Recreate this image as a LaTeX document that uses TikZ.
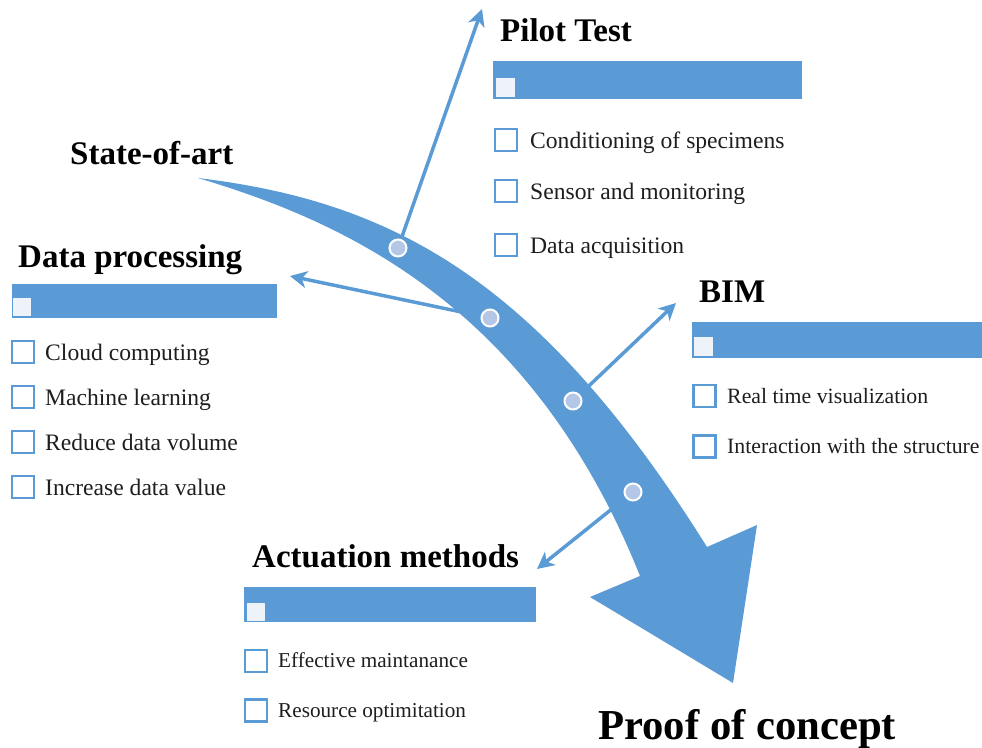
\documentclass[tikz,border=0pt]{standalone}
\usepackage{fontspec}
\setmainfont{Liberation Serif}
\usetikzlibrary{arrows.meta}
\definecolor{mblue}{HTML}{5B9BD5}
\definecolor{lsq}{HTML}{EEF3FA}
\definecolor{cfill}{HTML}{B4C7E7}
\definecolor{txt}{HTML}{1E1E1E}
\begin{document}
\begin{tikzpicture}[x=1pt,y=-1pt,
 bar/.style={fill=mblue, inner sep=0, anchor=north west},
 sq/.style={fill=lsq, inner sep=0, minimum size=19pt, anchor=north west},
 chk/.style={draw=mblue, line width=2.5pt, fill=white, minimum size=22pt, inner sep=0},
 ttl/.style={font=\fontsize{33}{40}\selectfont\bfseries, inner sep=0, anchor=base west},
 itA/.style={font=\fontsize{23.6}{28}\selectfont, inner sep=0, anchor=base west, text=txt},
 itB/.style={font=\fontsize{21.8}{27}\selectfont, inner sep=0, anchor=base west, text=txt},
 itC/.style={font=\fontsize{21.2}{26}\selectfont, inner sep=0, anchor=base west, text=txt},
 dot/.style={circle, fill=cfill, draw=white, line width=2pt, minimum size=17pt, inner sep=0},
 conn/.style={draw=mblue, line width=3.5pt, -{Stealth[length=17pt,width=17pt,inset=5pt]}}
]
\useasboundingbox (0,0) rectangle (982,747);

% circle centres and arrow ends
\coordinate (p1) at (398,248);
\coordinate (p2) at (490,318);
\coordinate (p3) at (573,401);
\coordinate (p4) at (633,492);
\coordinate (ePilot) at (482,9);
\coordinate (eData) at (290,276);
\coordinate (eBIM) at (676,303);
\coordinate (eAct) at (537,569);

% connectors
\draw[conn] (p1) -- (ePilot);
\draw[conn] (p2) -- (eData);
\draw[conn] (p3) -- (eBIM);
\draw[conn] (p4) -- (eAct);

% main curved arrow
\fill[mblue] (198,178) .. controls (388,201) and (537,275) .. (707,547)
  -- (757,525) -- (733,683) -- (590,597) -- (640,576)
  .. controls (530,301) and (338,220) .. (198,178) -- cycle;

\node[dot] (d1) at (p1) {};
\node[dot] (d2) at (p2) {};
\node[dot] (d3) at (p3) {};
\node[dot] (d4) at (p4) {};

% titles
\node[ttl] (tPilot) at (500,41) {Pilot Test};
\node[ttl] (tState) at (70,164) {State-of-art};
\node[ttl] (tData) at (18,267) {Data processing};
\node[ttl] (tBIM) at (699,302) {BIM};
\node[ttl] (tAct) at (252,567) {Actuation methods};
\node[font=\fontsize{42.7}{50}\selectfont\bfseries, inner sep=0, anchor=base west] (tProof) at (598,739) {Proof of concept};

% bars
\node[bar, minimum width=309pt, minimum height=38pt] (bPilot) at (493,61) {};
\node[sq] (sPilot) at (496,78) {};
\node[bar, minimum width=265pt, minimum height=34pt] (bData) at (12,284) {};
\node[sq, minimum size=18pt] (sData) at (13,298) {};
\node[bar, minimum width=290pt, minimum height=36pt] (bBIM) at (692,322) {};
\node[sq] (sBIM) at (694,337) {};
\node[bar, minimum width=292pt, minimum height=35pt] (bAct) at (244,587) {};
\node[sq, minimum size=18pt] (sAct) at (247,603) {};

% Pilot items
\node[chk] (k1) at (506,140) {};
\node[itA] (i1) at (530,148) {Conditioning of specimens};
\node[chk] (k2) at (506,191) {};
\node[itA] (i2) at (530,199) {Sensor and monitoring};
\node[chk] (k3) at (506,245) {};
\node[itA] (i3) at (530,253) {Data acquisition};

% Data processing items
\node[chk] (k4) at (23,352) {};
\node[itA] (i4) at (45,360) {Cloud computing};
\node[chk] (k5) at (23,397) {};
\node[itA] (i5) at (45,405) {Machine learning};
\node[chk] (k6) at (23,442) {};
\node[itA] (i6) at (45,450) {Reduce data volume};
\node[chk] (k7) at (23,487) {};
\node[itA] (i7) at (45,495) {Increase data value};

% BIM items
\node[chk] (k8) at (704.5,396) {};
\node[itB] (i8) at (727,403) {Real time visualization};
\node[chk] (k9) at (704.5,446.5) {};
\node[itB] (i9) at (727,453.5) {Interaction with the structure};

% Actuation items
\node[chk] (k10) at (256,661) {};
\node[itC] (i10) at (278,667.5) {Effective maintanance};
\node[chk] (k11) at (256,710.5) {};
\node[itC] (i11) at (278,717) {Resource optimitation};
\end{tikzpicture}
\end{document}
